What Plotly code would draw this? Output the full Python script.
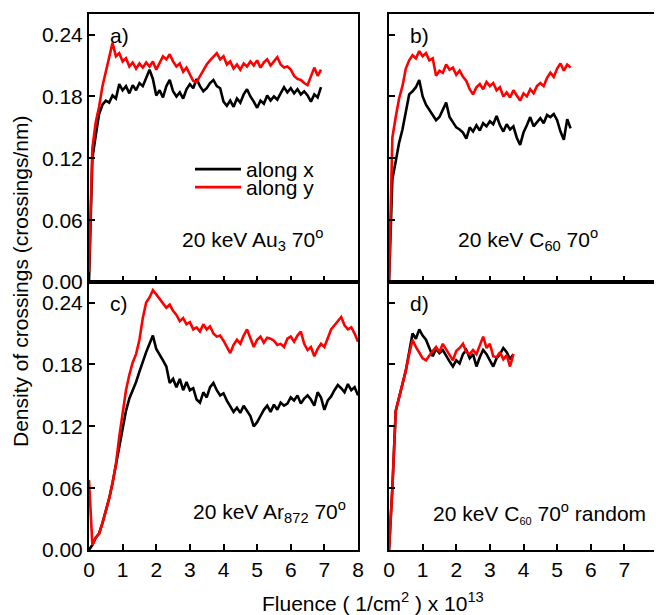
import plotly.graph_objects as go
from plotly.subplots import make_subplots

# all series are sampled every 0.1 (x 10^13 /cm^2), starting at fluence 0
step = 0.1

# a) 20 keV Au3 70 deg, fluence 0 .. 6.9
a_along_x = [0.0, 0.12, 0.142, 0.163, 0.172, 0.176, 0.174, 0.181, 0.178, 0.192,
             0.186, 0.19, 0.183, 0.191, 0.186, 0.193, 0.19, 0.199, 0.206, 0.197,
             0.181, 0.186, 0.179, 0.19, 0.196, 0.185, 0.18, 0.184, 0.178, 0.187,
             0.192, 0.188, 0.197, 0.19, 0.185, 0.188, 0.193, 0.196, 0.19, 0.188,
             0.175, 0.171, 0.176, 0.17, 0.178, 0.174, 0.182, 0.187, 0.18, 0.175,
             0.169, 0.176, 0.173, 0.181, 0.176, 0.18, 0.177, 0.183, 0.189, 0.184,
             0.188, 0.183, 0.187, 0.182, 0.185, 0.181, 0.175, 0.182, 0.179, 0.189]
a_along_y = [0.01, 0.13, 0.155, 0.17, 0.19, 0.205, 0.218, 0.232, 0.219, 0.222,
             0.214, 0.217, 0.209, 0.213, 0.207, 0.212, 0.208, 0.213, 0.209, 0.214,
             0.206, 0.213, 0.219, 0.216, 0.221, 0.214, 0.209, 0.212, 0.204, 0.208,
             0.201, 0.195, 0.194, 0.2, 0.206, 0.211, 0.215, 0.219, 0.222, 0.216,
             0.219, 0.211, 0.214, 0.207, 0.211, 0.206, 0.212, 0.209, 0.214, 0.21,
             0.215, 0.208, 0.213, 0.216, 0.21, 0.214, 0.218, 0.211, 0.208, 0.209,
             0.206, 0.2, 0.197, 0.196, 0.193, 0.191, 0.2, 0.208, 0.2, 0.206]

# b) 20 keV C60 70 deg, fluence 0 .. 5.4
b_along_x = [0.0, 0.1, 0.117, 0.135, 0.148, 0.165, 0.182, 0.185, 0.189, 0.196,
             0.18, 0.172, 0.167, 0.162, 0.157, 0.16, 0.167, 0.174, 0.16, 0.155,
             0.15, 0.148, 0.145, 0.139, 0.15, 0.146, 0.152, 0.147, 0.154, 0.151,
             0.156, 0.153, 0.161, 0.152, 0.146, 0.153, 0.148, 0.151, 0.14, 0.133,
             0.145, 0.152, 0.16, 0.151, 0.155, 0.159, 0.154, 0.162, 0.16, 0.163,
             0.157, 0.146, 0.138, 0.158, 0.149]
b_along_y = [0.0, 0.14, 0.16, 0.178, 0.19, 0.207, 0.215, 0.22, 0.217, 0.224,
             0.219, 0.222, 0.215, 0.217, 0.2, 0.205, 0.203, 0.211, 0.206, 0.208,
             0.201, 0.205, 0.199, 0.195, 0.187, 0.182, 0.189, 0.192, 0.187, 0.194,
             0.19, 0.193, 0.186, 0.189, 0.18, 0.184, 0.179, 0.186, 0.181, 0.176,
             0.183, 0.18, 0.187, 0.183, 0.19, 0.193, 0.19, 0.198, 0.203, 0.199,
             0.207, 0.212, 0.205, 0.211, 0.208]

# c) 20 keV Ar872 70 deg, fluence 0 .. 8.0
c_along_x = [0.0, 0.005, 0.012, 0.016, 0.026, 0.037, 0.05, 0.065, 0.083, 0.1,
             0.12, 0.135, 0.147, 0.155, 0.163, 0.173, 0.183, 0.192, 0.2, 0.208,
             0.195, 0.19, 0.184, 0.178, 0.162, 0.166, 0.158, 0.166, 0.155, 0.163,
             0.155, 0.157, 0.146, 0.143, 0.153, 0.148, 0.158, 0.162, 0.155, 0.15,
             0.152, 0.145, 0.139, 0.134, 0.138, 0.133, 0.14, 0.135, 0.13, 0.12,
             0.124, 0.13, 0.136, 0.14, 0.134, 0.141, 0.136, 0.143, 0.14, 0.142,
             0.148, 0.145, 0.15, 0.142, 0.147, 0.15, 0.146, 0.14, 0.153, 0.148,
             0.136, 0.145, 0.149, 0.155, 0.16, 0.157, 0.153, 0.161, 0.155, 0.158,
             0.15]
c_along_y = [0.068, 0.005, 0.012, 0.016, 0.026, 0.037, 0.05, 0.065, 0.083, 0.11,
             0.135, 0.155, 0.17, 0.182, 0.19, 0.204, 0.225, 0.24, 0.245, 0.252,
             0.248, 0.244, 0.24, 0.235, 0.238, 0.232, 0.228, 0.222, 0.225, 0.219,
             0.221, 0.214, 0.216, 0.212, 0.219, 0.214, 0.217, 0.21, 0.207, 0.208,
             0.203, 0.197, 0.191, 0.199, 0.204, 0.2, 0.208, 0.214, 0.206, 0.197,
             0.204, 0.207, 0.201, 0.206, 0.205, 0.203, 0.199, 0.2, 0.197, 0.205,
             0.207, 0.202, 0.208, 0.212, 0.2, 0.194, 0.197, 0.188, 0.195, 0.2,
             0.197, 0.205, 0.214, 0.218, 0.222, 0.226, 0.218, 0.214, 0.216, 0.21,
             0.202]

# d) 20 keV C60 70 deg random, fluence 0 .. 3.7
d_along_x = [0.0, 0.06, 0.135, 0.148, 0.16, 0.174, 0.192, 0.21, 0.205, 0.214,
             0.208, 0.204, 0.196, 0.188, 0.195, 0.191, 0.194, 0.188, 0.183, 0.178,
             0.184, 0.181, 0.19, 0.194, 0.186, 0.19, 0.178, 0.187, 0.194, 0.19,
             0.184, 0.178, 0.186, 0.19, 0.196, 0.192, 0.185, 0.19]
d_along_y = [0.0, 0.06, 0.135, 0.148, 0.16, 0.174, 0.19, 0.204, 0.197, 0.192,
             0.186, 0.184, 0.189, 0.193, 0.197, 0.192, 0.2, 0.195, 0.189, 0.184,
             0.193, 0.196, 0.2, 0.192, 0.19, 0.194, 0.19, 0.198, 0.207, 0.196,
             0.2, 0.188, 0.187, 0.192, 0.185, 0.189, 0.178, 0.19]

y_ticks = [0.0, 0.06, 0.12, 0.18, 0.24]
x_ticks = [0, 1, 2, 3, 4, 5, 6, 7, 8]

panels = [
    ("a)", "20 keV Au<sub>3</sub> 70<sup>o</sup>", a_along_x, a_along_y),
    ("b)", "20 keV C<sub>60</sub> 70<sup>o</sup>", b_along_x, b_along_y),
    ("c)", "20 keV Ar<sub>872</sub> 70<sup>o</sup>", c_along_x, c_along_y),
    ("d)", "20 keV C<sub><span style='font-size:11px'>60</span></sub> 70<sup>o</sup> random",
     d_along_x, d_along_y),
]

FONT = "Liberation Sans, Arial, sans-serif"
FS = 21

# the page body adds an 8px margin top/left, so the figure starts at (8, 8)
PAGE_W, PAGE_H, OFF = 662, 615, 8
W, H = PAGE_W - OFF, PAGE_H - OFF


def fx(px):
    return (px - OFF) / W


def fy(py):
    return (H + OFF - py) / H


fig = make_subplots(rows=2, cols=2)

for i, (tag, label, sx, sy) in enumerate(panels):
    row, col = i // 2 + 1, i % 2 + 1
    # legend only for panel a, one legend box per series
    fig.add_trace(go.Scatter(y=sx, x0=0, dx=step, mode="lines", name="along x",
                             line=dict(color="black", width=2.6),
                             legend="legend", showlegend=(i == 0)),
                  row=row, col=col)
    fig.add_trace(go.Scatter(y=sy, x0=0, dx=step, mode="lines", name="along y",
                             line=dict(color="#ff0000", width=2.6),
                             legend="legend2", showlegend=(i == 0)),
                  row=row, col=col)

# panel boxes in page pixels (left, right, top, bottom)
boxes = [(89, 358, 14, 282), (389, 658, 14, 282),
         (89, 358, 282, 550), (389, 658, 282, 550)]

for i, (l, r, t, b) in enumerate(boxes):
    n = "" if i == 0 else str(i + 1)
    fig.layout["xaxis" + n].update(
        domain=[fx(l), fx(r)], range=[0, 8], tickvals=x_ticks,
        showticklabels=(i >= 2), ticks="inside", ticklen=6, tickwidth=1.5,
        tickcolor="black", showline=True, linecolor="black", linewidth=2,
        mirror=True, showgrid=False, zeroline=False, automargin=False,
        tickfont=dict(family=FONT, size=FS, color="black"),
    )
    fig.layout["yaxis" + n].update(
        domain=[fy(b), fy(t)], range=[0, 0.26], tickvals=y_ticks,
        tickformat=".2f", showticklabels=(i % 2 == 0), ticks="inside",
        ticklen=6, tickwidth=1.5, tickcolor="black", showline=True,
        linecolor="black", linewidth=2, mirror=True, showgrid=False,
        zeroline=False, automargin=False,
        tickfont=dict(family=FONT, size=FS, color="black"),
    )

# panel tags and captions
text_pos = [(0.877, 0.157), (0.784, 0.157), (0.963, 0.142), (0.963, 0.138)]
for i, (tag, label, _, _) in enumerate(panels):
    n = "" if i == 0 else str(i + 1)
    fig.add_annotation(xref="x" + n + " domain", yref="y" + n + " domain",
                       x=0.07, y=0.92, text=tag, showarrow=False,
                       xanchor="left", yanchor="middle",
                       font=dict(family=FONT, size=FS, color="black"))
    fig.add_annotation(xref="x" + n + " domain", yref="y" + n + " domain",
                       x=text_pos[i][0], y=text_pos[i][1], text=label,
                       showarrow=False, xanchor="right", yanchor="middle",
                       font=dict(family=FONT, size=FS, color="black"))

# shared axis titles
fig.add_annotation(xref="paper", yref="paper", x=fx(20), y=fy(282),
                   text="Density of crossings (crossings/nm)", textangle=-90,
                   showarrow=False, xanchor="center", yanchor="middle",
                   font=dict(family=FONT, size=FS, color="black"))
fig.add_annotation(xref="paper", yref="paper", x=fx(373), y=fy(602),
                   text="Fluence ( 1/cm<sup>2</sup> ) x 10<sup>13</sup>",
                   showarrow=False, xanchor="center", yanchor="middle",
                   font=dict(family=FONT, size=FS, color="black"))

legend_style = dict(xanchor="left", yanchor="top", bgcolor="rgba(0,0,0,0)",
                    itemwidth=46,
                    font=dict(family=FONT, size=FS, color="black"))

fig.update_layout(
    width=W, height=H,
    margin=dict(l=0, r=0, t=0, b=0),
    plot_bgcolor="white", paper_bgcolor="white",
    legend=dict(x=fx(190), y=fy(149), **legend_style),
    legend2=dict(x=fx(190), y=fy(167), **legend_style),
)

fig.write_html("out.html")
